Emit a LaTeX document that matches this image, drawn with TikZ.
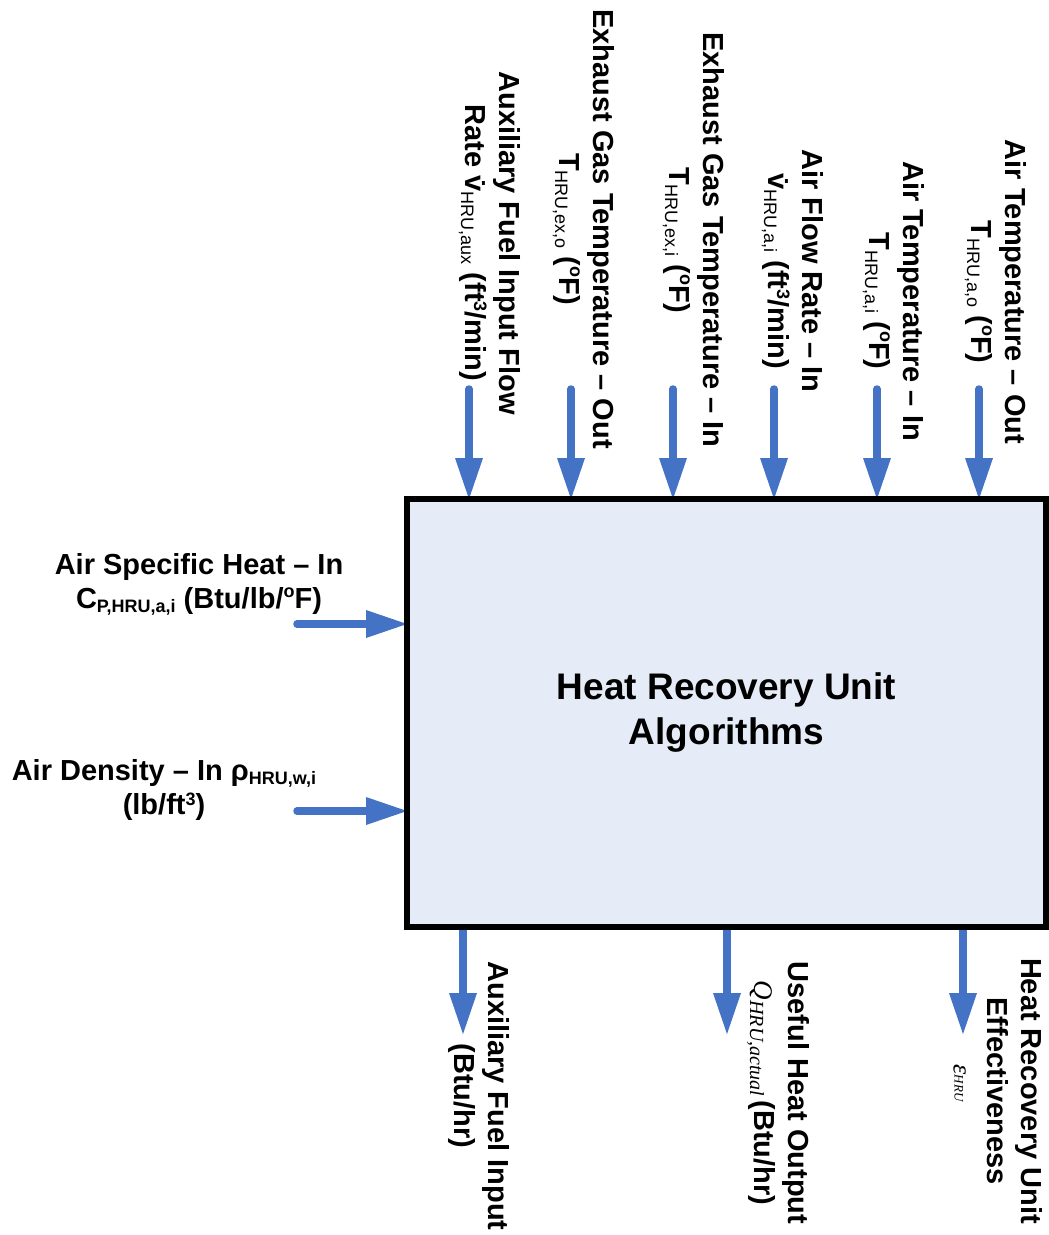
\documentclass[tikz,border=0pt]{standalone}
\usepackage{fontspec}
\setmainfont{Liberation Sans}
\newfontfamily\timesf{Liberation Serif}
\usetikzlibrary{arrows.meta,backgrounds}

\definecolor{flowblue}{RGB}{68,114,196}
\definecolor{unitfill}{RGB}{230,236,247}

% small lowered / raised text for indices and units
\newcommand\SubR[1]{\raisebox{-4pt}{\fontsize{18}{18}\selectfont\mdseries #1}}
\newcommand\SubB[1]{\raisebox{-4pt}{\fontsize{18}{18}\selectfont\bfseries #1}}
\newcommand\SupS[2][11pt]{\raisebox{#1}{\fontsize{18}{18}\selectfont #2}}

\begin{document}
\begin{tikzpicture}[x=1pt,y=-1pt,
  flow/.style={line width=7.5pt, line cap=round, draw=flowblue,
    -{Triangle[width=28pt,length=41pt,line width=0pt,fill=flowblue,color=flowblue]}},
  lbl/.style={font=\fontsize{29}{34}\selectfont\bfseries, align=center, inner sep=0pt},
  vlbl/.style={lbl, rotate=-90},
]
\useasboundingbox (0,0) rectangle (1049,1235);

% central block
\node[draw=black, line width=6.5pt, fill=unitfill, minimum width=639pt,
      minimum height=428pt, inner sep=0pt, outer sep=0pt,
      font=\fontsize{37}{45}\selectfont\bfseries, align=center]
  (hru) at (726.5,713) {Heat Recovery Unit\\Algorithms};

% arrow tails
\coordinate (t1) at (469,389);
\coordinate (t2) at (571,389);
\coordinate (t3) at (673,389);
\coordinate (t4) at (774,389);
\coordinate (t5) at (877,389);
\coordinate (t6) at (979,389);
\coordinate (l1) at (297,624);
\coordinate (l2) at (297,811);
\coordinate (b1) at (463,1034);
\coordinate (b2) at (727,1034);
\coordinate (b3) at (963,1034);

\begin{pgfonlayer}{background}
  \foreach \t in {t1,t2,t3,t4,t5,t6}
    \draw[flow] (\t) -- (\t |- hru.north);
  \foreach \l in {l1,l2}
    \draw[flow] (\l) -- (\l -| hru.west);
  \foreach \b in {b1,b2,b3}
    \draw[flow] (\b |- hru.south) -- (\b);
\end{pgfonlayer}

% inputs from above
\node[vlbl] (t1lab) at (489.5,243) {Auxiliary Fuel Input Flow\\Rate v̇\SubR{HRU,aux} (ft\SupS[9pt]{3}/min)};
\node[vlbl] (t2lab) at (583.5,229) {Exhaust Gas Temperature – Out\\T\SubR{HRU,ex,o} (\SupS{o}F)};
\node[vlbl] (t3lab) at (693.5,240) {Exhaust Gas Temperature – In\\T\SubR{HRU,ex,i} (\SupS{o}F)};
\node[vlbl] (t4lab) at (792.5,271) {Air Flow Rate – In\\v̇\SubR{HRU,a,i} (ft\SupS[9pt]{3}/min)};
\node[vlbl] (t5lab) at (893.5,301) {Air Temperature – In\\T\SubR{HRU,a,i} (\SupS{o}F)};
\node[vlbl] (t6lab) at (995.5,292) {Air Temperature – Out\\T\SubR{HRU,a,o} (\SupS{o}F)};

% inputs from the left
\node[lbl] (l1lab) at (199,584) {Air Specific Heat – In\\C\SubB{P,HRU,a,i} (Btu/lb/\SupS{o}F)};
\node[lbl] (l2lab) at (164,789.5) {Air Density – In ρ\SubB{HRU,w,i}\\(lb/ft\SupS[9pt]{3})};

% outputs
\node[vlbl] (b1lab) at (478.5,1096) {Auxiliary Fuel Input\\(Btu/hr)};
\node[vlbl] (b2lab) at (778,1093) {Useful Heat Output\\{\timesf\mdseries\itshape\fontsize{27}{34}\selectfont Q\raisebox{-4pt}{\fontsize{20}{20}\selectfont HRU,actual}}\hspace{4pt}(Btu/hr)};
\node[vlbl] (b3lab) at (998,1091) {Heat Recovery Unit\\Effectiveness\\{\timesf\mdseries\itshape\fontsize{26}{34}\selectfont ε\raisebox{1pt}{\fontsize{13}{13}\selectfont HRU}}\hspace*{16pt}};
\end{tikzpicture}
\end{document}
